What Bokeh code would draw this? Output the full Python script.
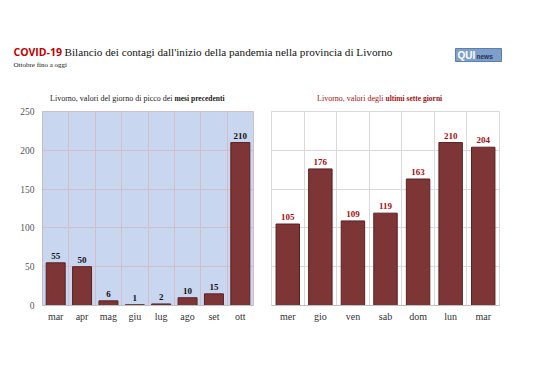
from bokeh.plotting import figure
from bokeh.layouts import column, row
from bokeh.models import Range1d, FixedTicker, ColumnDataSource
from bokeh.core.properties import value
from bokeh.embed import file_html
from bokeh.resources import INLINE

# ---- data ----
months = ["mar", "apr", "mag", "giu", "lug", "ago", "set", "ott"]
month_peaks = [55, 50, 6, 1, 2, 10, 15, 210]
days = ["mer", "gio", "ven", "sab", "dom", "lun", "mar"]
day_values = [105, 176, 109, 119, 163, 210, 204]
y_ticks = [0, 50, 100, 150, 200, 250]

title_main = "Bilancio dei contagi dall'inizio della pandemia nella provincia di Livorno"
title_tag = "COVID-19"
subtitle = "Ottobre fino a oggi"
left_title_a = "Livorno, valori del giorno di picco dei "
left_title_b = "mesi precedenti"
right_title_a = "Livorno, valori degli "
right_title_b = "ultimi sette giorni"

SERIF = "Liberation Serif"
BAR_FILL = "#7D3535"
BAR_LINE = "#5A2222"
DARK_RED = "#A50F0F"

# ---- header (page pixel coordinates) ----
H_W, H_H = 530, 104
hdr = figure(width=H_W, height=H_H, x_range=Range1d(0, H_W), y_range=Range1d(H_H, 0),
             output_backend="svg", toolbar_location=None, min_border=0)
hdr.axis.visible = False
hdr.grid.visible = False
hdr.outline_line_color = None
hdr.text(x=[13], y=[51], text=[title_tag], text_font=value("Open Sans"), text_font_style="bold",
         text_font_size="10.5px", text_color="#C00000", text_baseline="middle")
hdr.text(x=[64], y=[51], text=[title_main], text_font=value(SERIF),
         text_font_size="11.2px", text_color="#111111", text_baseline="middle")
hdr.text(x=[13], y=[64], text=[subtitle], text_font=value(SERIF),
         text_font_size="7px", text_color="#111111", text_baseline="middle")
# logo
hdr.quad(left=[455], right=[501], top=[48], bottom=[61], fill_color="#7F9FCB",
         line_color="#5C7FAF")
hdr.text(x=[457], y=[55], text=["QUI"], text_font=value("Liberation Sans"), text_font_style="bold",
         text_font_size="10px", text_color="white", text_baseline="middle")
hdr.text(x=[476], y=[55.5], text=["news"], text_font=value("Liberation Sans"), text_font_style="bold",
         text_font_size="6.5px", text_color="#1F2F55", text_baseline="middle")
# subplot titles
hdr.text(x=[174], y=[98], text=[left_title_a], text_font=value(SERIF), text_align="right",
         text_font_size="8px", text_color="#222222", text_baseline="middle")
hdr.text(x=[174], y=[98], text=[left_title_b], text_font=value(SERIF), text_font_style="bold",
         text_font_size="7.5px", text_color="#222222", text_baseline="middle")
hdr.text(x=[385], y=[98], text=[right_title_a], text_font=value(SERIF), text_align="right",
         text_font_size="8px", text_color=DARK_RED, text_baseline="middle")
hdr.text(x=[385], y=[98], text=[right_title_b], text_font=value(SERIF), text_font_style="bold",
         text_font_size="7.5px", text_color=DARK_RED, text_baseline="middle")


def bar_panel(cats, vals, width, bl, br, bg, grid_color, label_color, show_y):
    n = len(cats)
    p = figure(width=width, height=226, x_range=Range1d(-0.5, n - 0.5), y_range=Range1d(0, 250),
               output_backend="svg", toolbar_location=None,
               min_border_left=bl, min_border_right=br, min_border_top=7, min_border_bottom=25)
    src = ColumnDataSource(dict(x=list(range(n)), top=vals, lab=[str(v) for v in vals]))
    p.vbar(x="x", top="top", width=0.72, source=src, fill_color=BAR_FILL, line_color=BAR_LINE,
           line_width=1)
    p.text(x="x", y="top", text="lab", source=src, text_align="center", text_baseline="bottom",
           y_offset=-4, text_font=value(SERIF), text_font_style="bold", text_font_size="9px",
           text_color=label_color)
    p.background_fill_color = bg
    p.outline_line_color = grid_color
    p.xaxis.ticker = FixedTicker(ticks=list(range(n)))
    p.xaxis.major_label_overrides = {i: c for i, c in enumerate(cats)}
    p.xaxis.major_tick_line_color = None
    p.xaxis.major_tick_out = 0
    p.xaxis.minor_tick_line_color = None
    p.xaxis.axis_line_color = "#BFBFBF"
    p.xaxis.major_label_text_font = SERIF
    p.xaxis.major_label_text_font_size = "10px"
    p.xaxis.major_label_text_color = "#333333"
    p.xaxis.major_label_standoff = 5
    p.xgrid.ticker = FixedTicker(ticks=[i - 0.5 for i in range(n + 1)])
    p.xgrid.grid_line_color = grid_color
    p.ygrid.ticker = FixedTicker(ticks=y_ticks)
    p.ygrid.grid_line_color = grid_color
    p.yaxis.ticker = FixedTicker(ticks=y_ticks)
    if show_y:
        p.yaxis.axis_line_color = "#BFBFBF"
        p.yaxis.major_tick_line_color = None
        p.yaxis.major_tick_out = 0
        p.yaxis.minor_tick_line_color = None
        p.yaxis.major_label_text_font = SERIF
        p.yaxis.major_label_text_font_size = "9.5px"
        p.yaxis.major_label_text_color = "#555555"
        p.yaxis.major_label_standoff = 8
    else:
        p.yaxis.visible = False
    return p


left = bar_panel(months, month_peaks, 262, 42, 9, "#C9D6EF", "#D3BDC8", "#111111", True)
right = bar_panel(days, day_values, 268, 9, 31, "#FFFFFF", "#D9D9D9", DARK_RED, False)

layout = column(hdr, row(left, right))
open("out.html", "w").write(file_html(layout, INLINE))
